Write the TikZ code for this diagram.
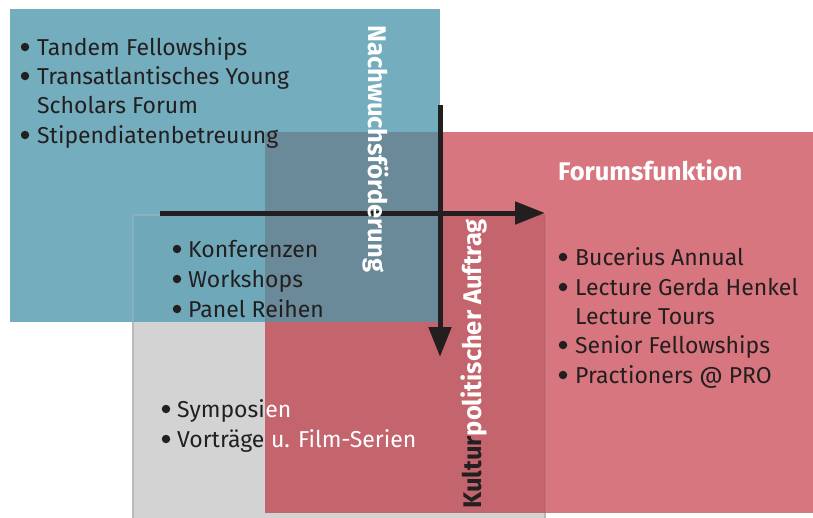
\documentclass[tikz,border=0pt]{standalone}
\usepackage{fontspec}
\setmainfont{Fira Sans}
\usetikzlibrary{arrows.meta}

\definecolor{ink}{HTML}{231F20}
\definecolor{tealbox}{HTML}{74AEBE}
\definecolor{redbox}{HTML}{D8767F}
\definecolor{graybox}{HTML}{D3D3D3}
\definecolor{grayline}{HTML}{B9B9B9}
\definecolor{tealred}{HTML}{6A8A9A}
\definecolor{tealgray}{HTML}{6FA9B9}
\definecolor{redgray}{HTML}{C4656E}

\begin{document}
\begin{tikzpicture}[x=1pt,y=-1pt,
    item/.style={anchor=base west, inner sep=0pt, text=ink,
        font=\fontsize{23}{27}\selectfont},
    dot/.style={circle, fill=ink, inner sep=0pt, minimum size=8.5pt},
    heading/.style={anchor=base west, inner sep=0pt, text=white,
        font=\bfseries\fontsize{25.5}{30}\selectfont},
    axis/.style={line width=5pt, draw=ink,
        -{Triangle[length=30pt,width=22pt]}}]
    \useasboundingbox (0,0) rectangle (813,517);

    % boxes
    \fill[graybox] (133,215) rectangle (545,520);
    \draw[grayline, line width=1.2pt] (133,520) -- (133,215) -- (545,215) -- (545,520);
    \fill[tealbox] (10,9) rectangle (440,322);
    \fill[redbox] (265,132) rectangle (813,513);
    % overlaps
    \fill[tealgray] (133,215) rectangle (265,322);
    \draw[grayline, opacity=.35, line width=1.2pt] (133,322) -- (133,215) -- (265,215);
    \fill[tealred] (265,132) rectangle (440,322);
    \fill[redgray] (265,322) rectangle (545,513);
    \fill[redgray] (440,215) rectangle (545,322);
    \draw[black, opacity=.06, line width=1.2pt] (265,215) -- (545,215) -- (545,513);

    % axes
    \coordinate (hstart) at (160,213);
    \coordinate (hend) at (545,213);
    \coordinate (vstart) at (440,105);
    \coordinate (vend) at (440,357);
    \draw[axis] (hstart) -- (hend);
    \draw[axis] (vstart) -- (vend);

    % axis labels
    \node[heading, rotate=-90] (nach) at (368,25) {Nachwuchsförderung};
    \node[heading, rotate=90] (kult) at (481,509) {{\color{ink}Kultur}politischer Auftrag};
    \node[heading] (forum) at (558,180) {Forumsfunktion};

    % bullets
    \foreach \x/\y [count=\i] in {25/47,25/76,25/135,177/249,177/279,177/309,
            563/257,563/287,563/345,563/375,166/409,166/439}
        \node[dot] (dot\i) at (\x,\y) {};

    % top left
    \node[item] (tandem) at (37,55) {Tandem Fellowships};
    \node[item] (trans) at (37,84) {Transatlantisches Young};
    \node[item] (schol) at (37,113) {Scholars Forum};
    \node[item] (stip) at (37,143) {Stipendiatenbetreuung};

    % middle
    \foreach \t [count=\i] in {Konferenzen,Workshops,Panel Reihen}
        \node[item] (mid\i) at (188,227+30*\i) {\t};

    % right
    \node[item] (buc) at (575,265) {Bucerius Annual};
    \node[item] (gerda) at (575,295) {Lecture Gerda Henkel};
    \node[item] (tours) at (575,324) {Lecture Tours};
    \node[item] (senior) at (575,353) {Senior Fellowships};
    \node[item] (pract) at (575,383) {Practioners @ PRO};

    % bottom left, dark on gray and white on red
    \node[item] (symp) at (177,417) {Symposi};
    \node[item, text=white] (symp2) at (symp.base east) {en};
    \node[item] (vortr) at (177,447) {Vorträge};
    \node[item, text=white] (vortr2) at (vortr.base east) {\ u. Film-Serien};
\end{tikzpicture}
\end{document}
